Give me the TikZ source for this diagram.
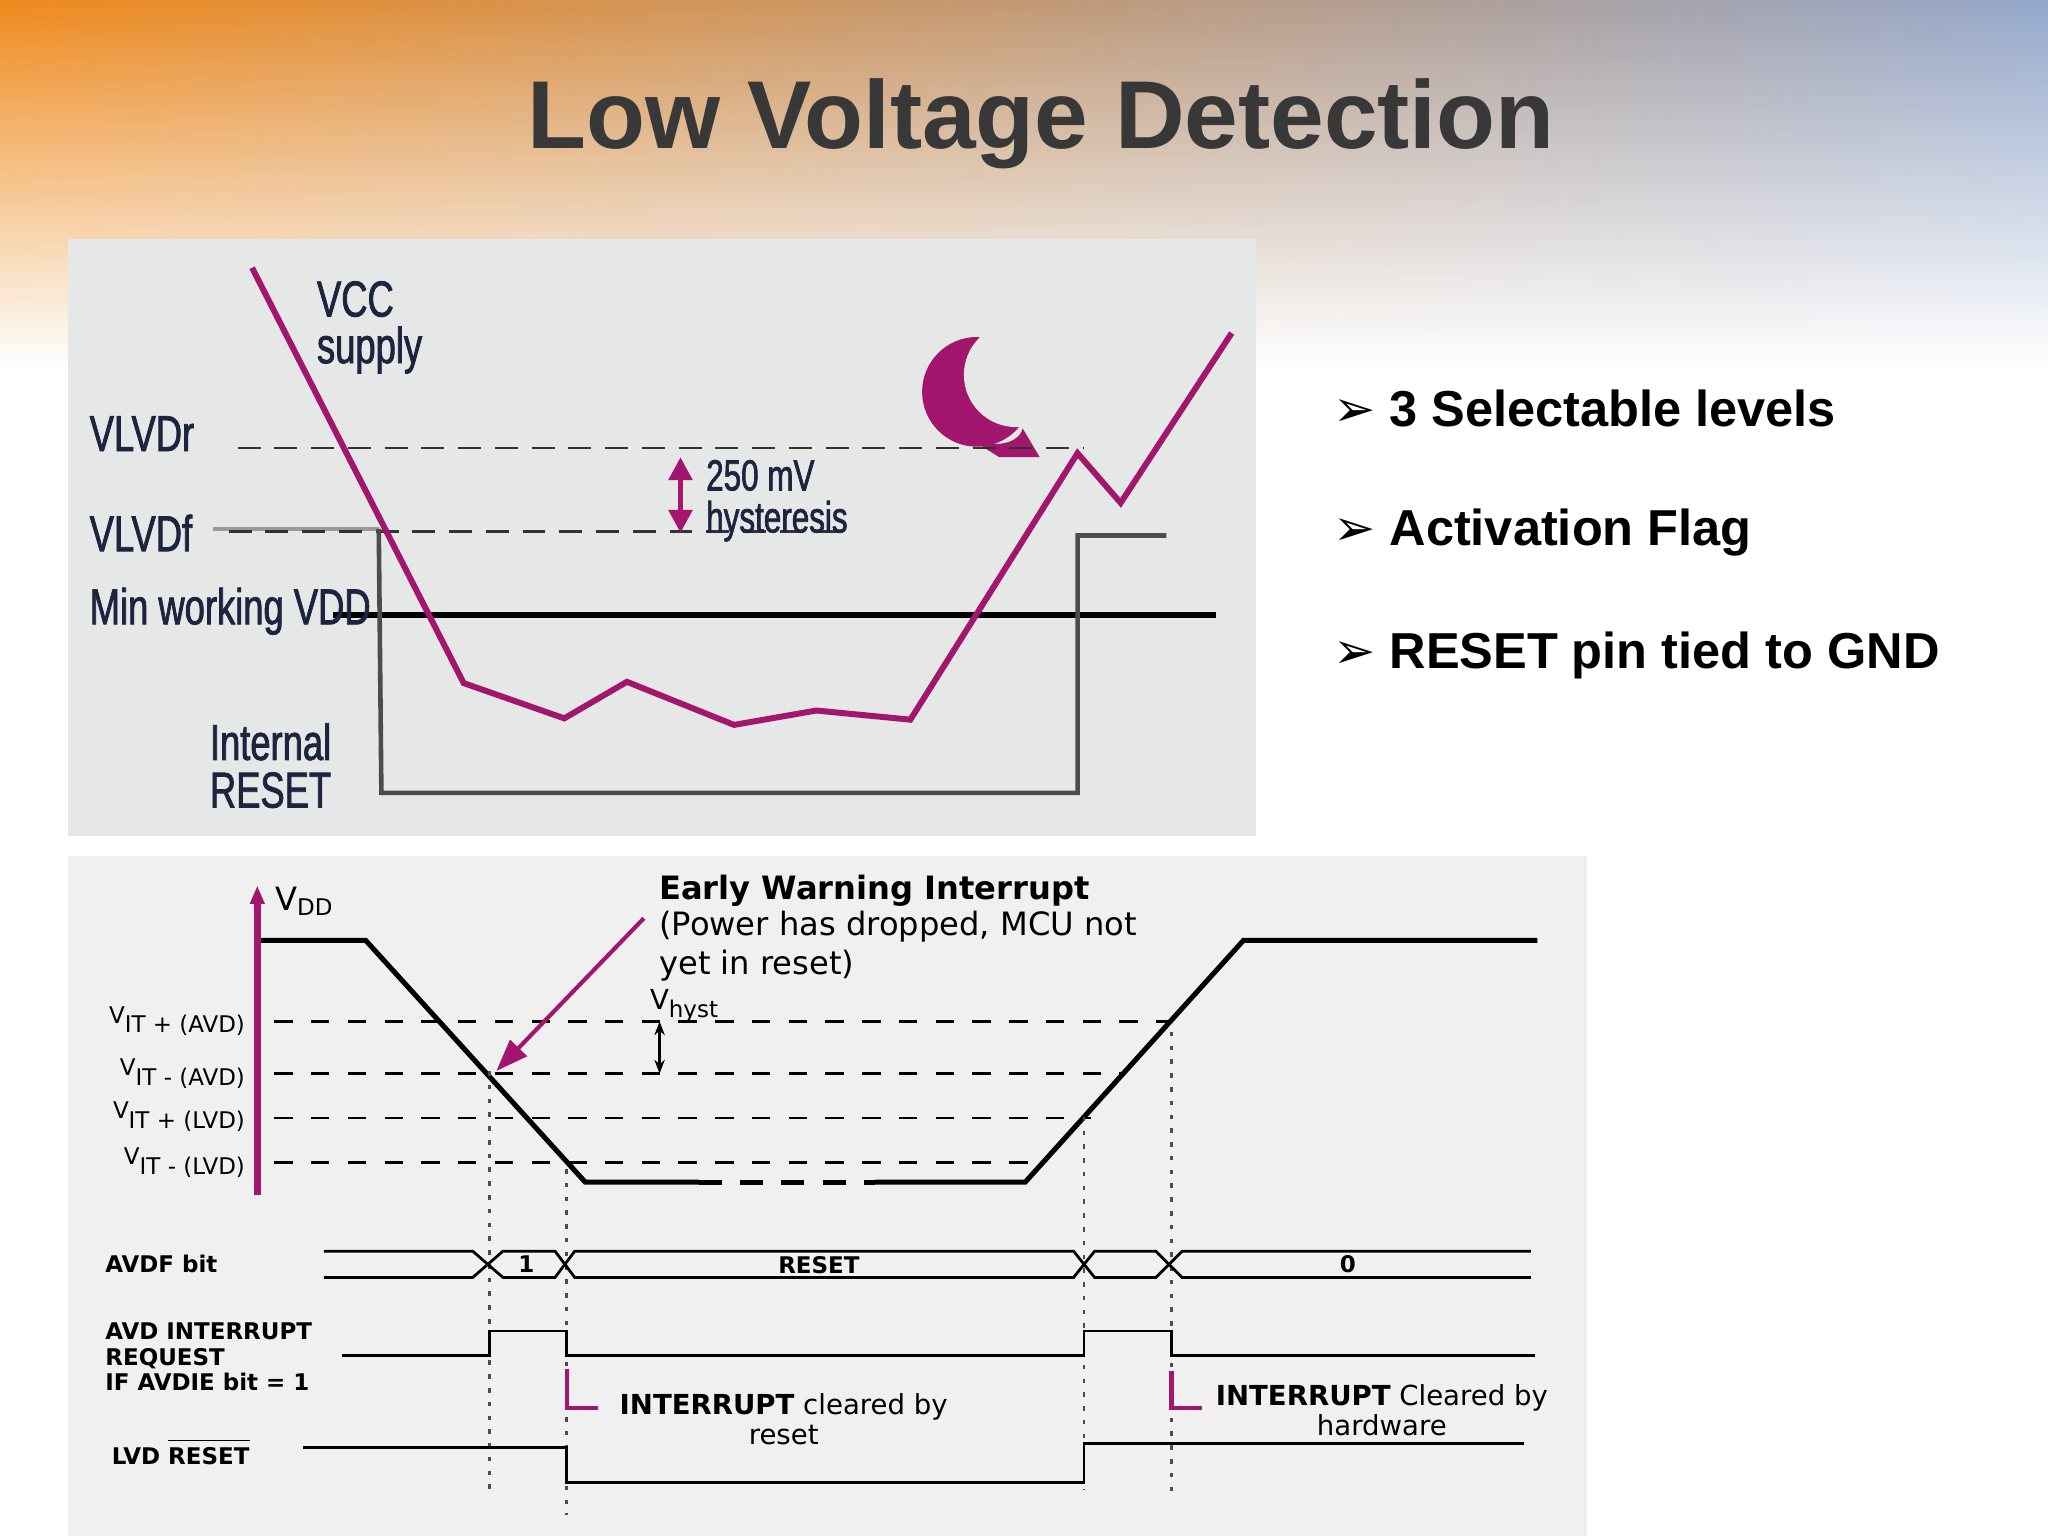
\documentclass[tikz,border=0pt]{standalone}
\usepackage{fontspec}
\setmainfont{Liberation Sans}
\newfontfamily\narrowf[FakeStretch=0.72,FakeBold=1.5]{Liberation Sans}
\newfontfamily\widef{DejaVu Sans}
\usetikzlibrary{arrows.meta,fadings}
\tikzfading[name=fadeS, top color=transparent!0, bottom color=transparent!100]
\definecolor{mag}{HTML}{A3166E}
\definecolor{pA}{HTML}{E6E8E8}
\definecolor{pB}{HTML}{F0F0F0}
\definecolor{navy}{HTML}{1E2440}
\definecolor{bg1}{HTML}{F08A1C}
\definecolor{bg2}{HTML}{F3EBC8}
\definecolor{bg3}{HTML}{94A8CC}
\begin{document}
\begin{tikzpicture}[x=0.01cm,y=-0.01cm,
 tl/.style={font=\narrowf\fontsize{11}{12}\selectfont,text=navy,inner sep=0},
 bl/.style={font=\widef\fontsize{5}{6}\selectfont,inner sep=0},
 bt/.style={font=\widef\fontsize{7}{8.5}\selectfont,inner sep=0},
 bul/.style={font=\bfseries\fontsize{11}{13}\selectfont,anchor=west,inner sep=0},
 dl/.style={dash pattern=on 5pt off 3pt,line width=0.5pt},
 dot/.style={dash pattern=on 1pt off 2pt,line width=0.6pt,black!70},
 wv/.style={line width=0.6pt}]
\useasboundingbox (0,0) rectangle (1568,1176);
\fill[white] (0,0) rectangle (1568,1176);
\shade[left color=bg1, middle color=bg2, right color=bg3, path fading=fadeS, fit fading=true] (0,0) rectangle (1568,280);
\node[font=\bfseries\fontsize{21}{24}\selectfont,text=black!78] (title) at (797,95) {Low Voltage Detection};
% top panel
\fill[pA] (52,183) rectangle (962,640);
\fill[mag] (748,300) circle (42);
\fill[pA] (778,287) circle (40);
\fill[mag] (738,333) .. controls (760,345) and (780,340) .. (783,328) -- (796,350) -- (765,350) -- cycle;
\draw[dl,black!80] (182,343) -- (830,343);
\draw[black!40,line width=1pt] (163,405) -- (290,405);
\draw[dl,black!80] (175,407) -- (645,407);
\draw[line width=1.4pt] (255,471) -- (931,471);
\draw[black!70,line width=1pt] (290,405) -- (292,607) -- (825,607) -- (825,410) -- (893,410);
\draw[mag,line width=1.3pt] (193,205) -- (355,523) -- (432,550) -- (480,522) -- (562,555) -- (625,544) -- (697,551) -- (825,347) -- (858,385) -- (943,255);
\draw[mag,line width=1.2pt,{Triangle[length=5pt,width=5pt]}-{Triangle[length=5pt,width=5pt]}] (521,350) -- (521,408);
\node[tl,anchor=west] (vcc) at (242,229) {VCC};
\node[tl,anchor=west] (sup) at (242,268) {supply};
\node[tl,anchor=west] (vr) at (68,332) {VLVDr};
\node[tl,anchor=west] (vf) at (68,408) {VLVDf};
\node[tl,anchor=west] (mw) at (68,468) {Min working VDD};
\node[tl,anchor=west] (ir1) at (160,568) {Internal};
\node[tl,anchor=west] (ir2) at (160,605) {RESET};
\node[tl,anchor=west,font=\narrowf\fontsize{9.5}{11}\selectfont] (mv) at (540,364) {250 mV};
\node[tl,anchor=west,font=\narrowf\fontsize{9.5}{11}\selectfont] (hy) at (540,399) {hysteresis};
% bullets
\node[bul] (b1) at (1020,313) {{\widef ➢} 3 Selectable levels};
\node[bul] (b2) at (1020,408) {{\widef ➢} Activation Flag};
\node[bul] (b3) at (1020,502) {{\widef ➢} RESET pin tied to GND};
% bottom panel
\fill[pB] (52,655) rectangle (1215,1176);
\draw[mag,line width=1.5pt,-{Triangle[length=4pt,width=3pt]}] (197,915) -- (197,678);
\node[bt,anchor=west] (vdd) at (210,690) {V\textsubscript{DD}};
\draw[dl,dash pattern=on 4pt off 4pt] (210,782) -- (895,782);
\draw[dl,dash pattern=on 4pt off 4pt] (210,822) -- (860,822);
\draw[dl,dash pattern=on 4pt off 4pt] (210,856) -- (835,856);
\draw[dl,dash pattern=on 4pt off 4pt] (210,890) -- (800,890);
\node[bl,anchor=east] (l1) at (190,782) {V\textsubscript{IT + (AVD)}};
\node[bl,anchor=east] (l2) at (190,822) {V\textsubscript{IT - (AVD)}};
\node[bl,anchor=east] (l3) at (190,855) {V\textsubscript{IT + (LVD)}};
\node[bl,anchor=east] (l4) at (190,890) {V\textsubscript{IT - (LVD)}};
\draw[line width=1.1pt] (200,720) -- (280,720) -- (448,905) -- (535,905);
\draw[line width=1.1pt,dash pattern=on 5pt off 4pt] (535,905) -- (670,905);
\draw[line width=1.1pt] (670,905) -- (785,905) -- (952,720) -- (1177,720);
\draw[dot] (375,820) -- (375,1140);
\draw[dot] (434,895) -- (434,1160);
\draw[dot] (830,855) -- (830,1140);
\draw[dot] (897,790) -- (897,1145);
\node[bl,anchor=west,font=\widef\fontsize{6}{7}\selectfont] (vh) at (497,770) {V\textsubscript{hyst}};
\draw[{Stealth[length=3pt]}-{Stealth[length=3pt]},line width=0.6pt] (505,782) -- (505,822);
\node[bt,anchor=west,font=\widef\bfseries\fontsize{7}{8.5}\selectfont] (ew) at (504,682) {Early Warning Interrupt};
\node[bt,anchor=north west,align=left] (ew2) at (504,697) {(Power has dropped, MCU not\\yet in reset)};
\draw[mag,line width=0.9pt,-{Triangle[length=7pt,width=5pt]}] (493,703) -- (380,820);
% AVDF bus
\draw[wv] (248,958) -- (362,958) -- (385,978) -- (425,978) -- (440,958) -- (822,958) -- (838,978) -- (885,978) -- (905,958) -- (1172,958);
\draw[wv] (248,978) -- (362,978) -- (385,958) -- (425,958) -- (440,978) -- (822,978) -- (838,958) -- (885,958) -- (905,978) -- (1172,978);
\node[bl,font=\widef\bfseries\fontsize{5}{6}\selectfont] (n1) at (403,968) {1};
\node[bl,font=\widef\bfseries\fontsize{5}{6}\selectfont] (nr) at (627,969) {RESET};
\node[bl,font=\widef\bfseries\fontsize{5}{6}\selectfont] (n0) at (1032,968) {0};
\node[bl,anchor=west,font=\widef\bfseries\fontsize{5}{6}\selectfont] (avdf) at (80,968) {AVDF bit};
% interrupt
\draw[wv] (262,1038) -- (375,1038) -- (375,1019) -- (434,1019) -- (434,1038) -- (830,1038) -- (830,1019) -- (897,1019) -- (897,1038) -- (1175,1038);
\node[bl,anchor=north west,align=left,font=\widef\bfseries\fontsize{5}{5.6}\selectfont] (air) at (80,1012) {AVD INTERRUPT\\REQUEST\\IF AVDIE bit = 1};
% LVD reset
\draw[wv] (232,1108) -- (434,1108) -- (434,1135) -- (830,1135) -- (830,1105) -- (1167,1105);
\node[bl,anchor=west,font=\widef\bfseries\fontsize{5}{6}\selectfont] (lvd) at (85,1111) {LVD $\overline{\mbox{RESET}}$};
\draw[mag,line width=1pt] (434,1048) -- (434,1078) -- (458,1078);
\draw[mag,line width=1pt] (897,1050) -- (897,1078) -- (920,1078);
\node[bt,font=\widef\fontsize{6}{7}\selectfont] (ic1) at (600,1077) {\textbf{INTERRUPT} cleared by};
\node[bt,font=\widef\fontsize{6}{7}\selectfont] (ic2) at (600,1099) {reset};
\node[bt,font=\widef\fontsize{6}{7}\selectfont] (ih1) at (1058,1070) {\textbf{INTERRUPT} Cleared by};
\node[bt,font=\widef\fontsize{6}{7}\selectfont] (ih2) at (1058,1091) {hardware};
\end{tikzpicture}
\end{document}
